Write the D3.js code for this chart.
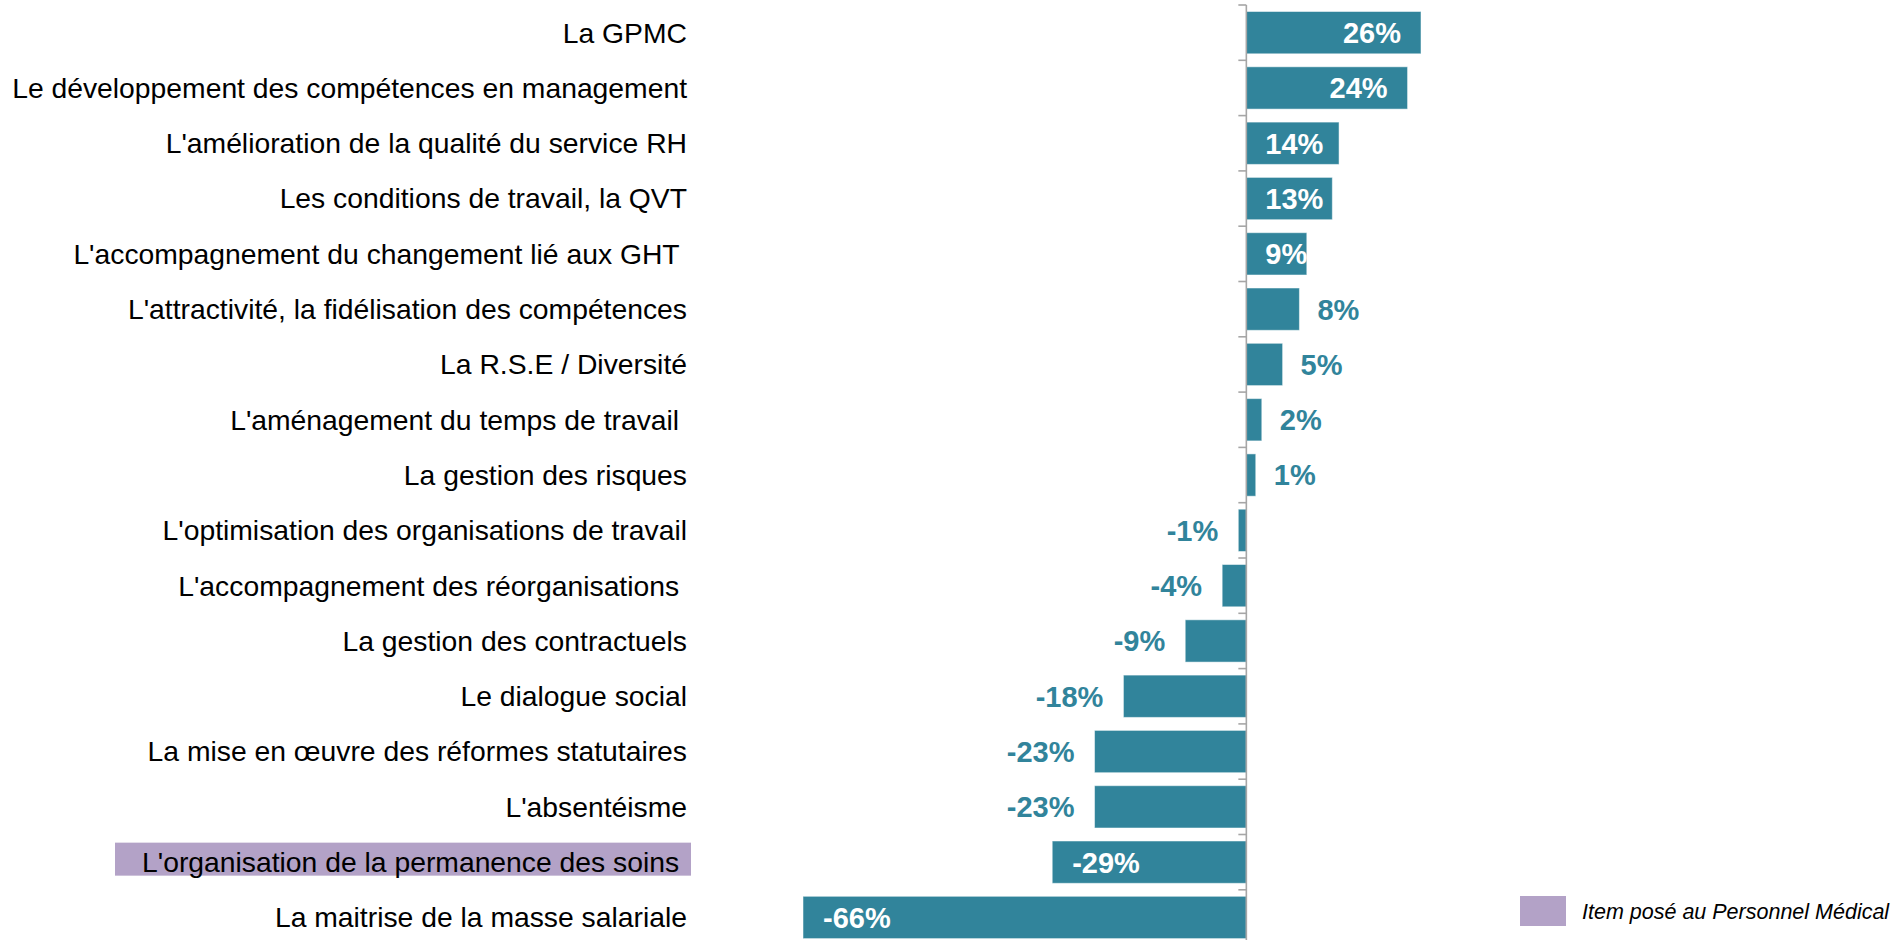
<!DOCTYPE html>
<html>
<head>
<meta charset="utf-8">
<script src="https://cdn.jsdelivr.net/npm/d3@7"></script>
<style>
  html, body { margin: 0; padding: 0; background: #fff; }
  svg { display: block; }
  text { font-family: "Liberation Sans", Arial, sans-serif; white-space: pre; }
</style>
</head>
<body>
<svg id="chart" width="1891" height="940"></svg>
<script>
// ---- data ----
const categories = [
  "La GPMC",
  "Le développement des compétences en management",
  "L'amélioration de la qualité du service RH",
  "Les conditions de travail, la QVT",
  "L'accompagnement du changement lié aux GHT ",
  "L'attractivité, la fidélisation des compétences",
  "La R.S.E / Diversité",
  "L'aménagement du temps de travail ",
  "La gestion des risques",
  "L'optimisation des organisations de travail",
  "L'accompagnement des réorganisations ",
  "La gestion des contractuels",
  "Le dialogue social",
  "La mise en œuvre des réformes statutaires",
  "L'absentéisme",
  "L'organisation de la permanence des soins ",
  "La maitrise de la masse salariale"
];
// values in % (labels show them rounded)
const values = [26, 24, 13.8, 12.8, 9, 7.9, 5.4, 2.3, 1.4, -1.2, -3.6, -9.1, -18.3, -22.6, -22.6, -28.9, -66];
// items whose value label sits inside the bar
const labelInside = [true, true, true, true, true, false, false, false, false, false, false, false, false, false, false, true, true];
// items asked to the medical staff (highlighted)
const medicalItems = ["L'organisation de la permanence des soins "];
const legendLabel = "Item posé au Personnel Médical";

// ---- styles ----
const barColor = "#31849B";
const highlightColor = "#B3A2C7";
const axisColor = "#A6A6A6";

const svg = d3.select("#chart");

const x = d3.scaleLinear().domain([-66, 26]).range([803, 1421]);
const y = d3.scaleBand().domain(categories).range([5, 5 + 55.3 * categories.length]).paddingInner(0.235).paddingOuter(0.1175);

// highlight box behind medical item labels
svg.append("g").selectAll("rect")
  .data(medicalItems)
  .join("rect")
  .attr("x", 115)
  .attr("width", 691 - 115)
  .attr("y", d => y(d) + y.bandwidth() / 2 - 19.5)
  .attr("height", 33)
  .attr("fill", highlightColor);

// bars
svg.append("g").selectAll("rect")
  .data(values)
  .join("rect")
  .attr("x", d => x(Math.min(0, d)))
  .attr("width", d => Math.abs(x(d) - x(0)))
  .attr("y", (d, i) => y(categories[i]))
  .attr("height", y.bandwidth())
  .attr("fill", barColor)
  .attr("stroke", "#ffffff")
  .attr("stroke-opacity", 0.5)
  .attr("stroke-width", 1);

// axis at zero
const axisG = svg.append("g").attr("transform", `translate(${x(0)},0)`);
axisG.call(d3.axisLeft(y).tickSize(0).tickFormat(""));
axisG.select(".domain").remove();
axisG.append("line")
  .attr("x1", 0).attr("x2", 0)
  .attr("y1", y.range()[0]).attr("y2", y.range()[1])
  .attr("stroke", axisColor).attr("stroke-width", 1.6);
const step = y.step();
axisG.selectAll(".sep")
  .data(d3.range(categories.length))
  .join("line")
  .attr("class", "sep")
  .attr("x1", -8).attr("x2", 0)
  .attr("y1", i => y.range()[0] + i * step)
  .attr("y2", i => y.range()[0] + i * step)
  .attr("stroke", axisColor).attr("stroke-width", 1.6);

// category labels
svg.append("g").selectAll("text")
  .data(categories)
  .join("text")
  .attr("x", 687)
  .attr("y", d => y(d) + y.bandwidth() / 2)
  .attr("dy", "0.35em")
  .attr("text-anchor", "end")
  .attr("font-size", 28.3)
  .attr("fill", "#000")
  .text(d => d);

// value labels
const fmt = d => Math.round(d) + "%";
const vl = svg.append("g").selectAll("text")
  .data(values)
  .join("text")
  .attr("y", (d, i) => y(categories[i]) + y.bandwidth() / 2)
  .attr("dy", "0.36em")
  .attr("font-size", 29)
  .attr("font-weight", "bold")
  .attr("fill", (d, i) => labelInside[i] ? "#ffffff" : barColor)
  .text(fmt);
vl.each(function(d, i) {
  const w = this.getComputedTextLength();
  const inside = labelInside[i];
  let left;
  if (d >= 0) {
    left = inside ? Math.max(x(d) - 20 - w, x(0) + 19) : x(d) + 18;
  } else {
    left = inside ? x(d) + 20 : x(d) - 20 - w;
  }
  d3.select(this).attr("x", left).attr("text-anchor", "start");
});

// legend
const legend = svg.append("g");
legend.append("rect")
  .attr("x", 1520).attr("y", 896)
  .attr("width", 46).attr("height", 30)
  .attr("fill", highlightColor);
legend.append("text")
  .attr("x", 1582).attr("y", 911)
  .attr("dy", "0.35em")
  .attr("font-size", 21.5)
  .attr("font-style", "italic")
  .attr("fill", "#000")
  .text(legendLabel);
</script>
</body>
</html>
